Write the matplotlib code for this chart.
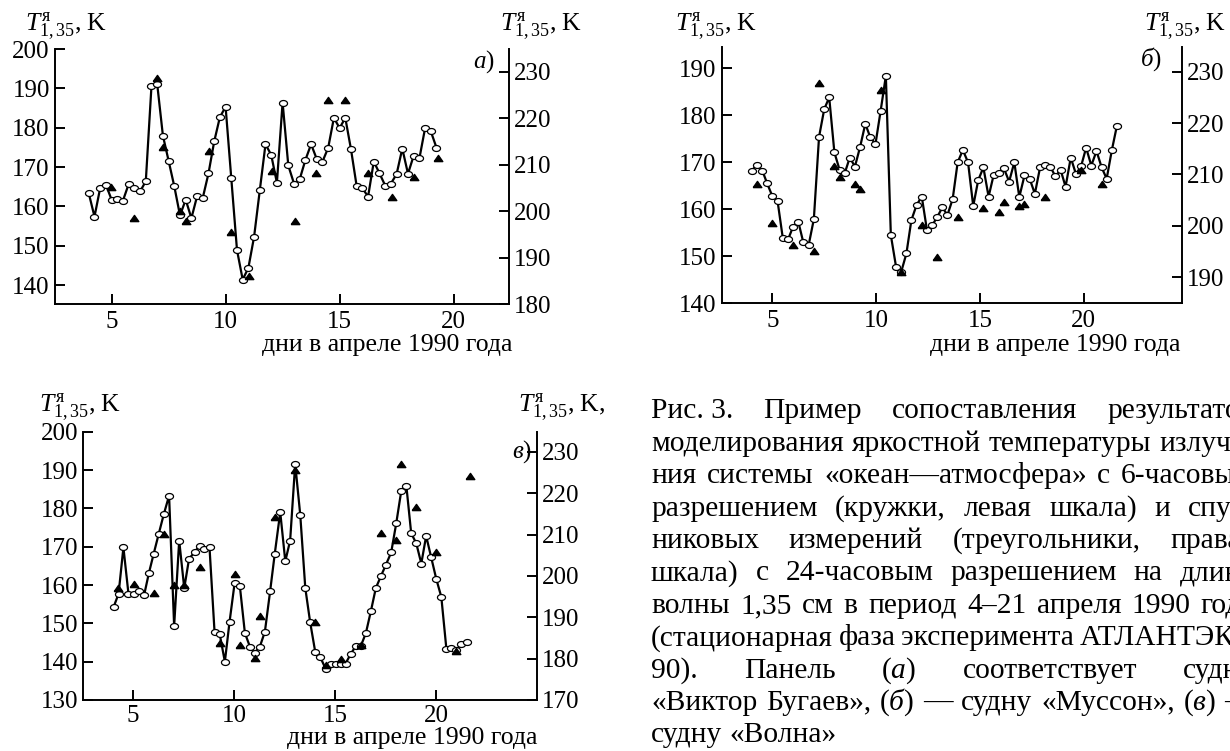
import numpy as np
import matplotlib
matplotlib.use('Agg')
import matplotlib.pyplot as plt

plt.rcParams['font.family'] = ['Liberation Serif', 'DejaVu Serif']
plt.rcParams['mathtext.fontset'] = 'custom'
plt.rcParams['mathtext.rm'] = 'Liberation Serif'
plt.rcParams['mathtext.it'] = 'Liberation Serif:italic'
plt.rcParams['mathtext.bf'] = 'Liberation Serif:bold'

# ---- panel a (Виктор Бугаев) ----
days_a = [4.0, 4.25, 4.5, 4.75, 5.0, 5.25, 5.5, 5.75, 6.0, 6.25, 6.5, 6.75, 7.0, 7.25, 7.5, 7.75,
          8.0, 8.25, 8.5, 8.75, 9.0, 9.25, 9.5, 9.75, 10.0, 10.25, 10.5, 10.75, 11.0, 11.25, 11.5,
          11.75, 12.0, 12.25, 12.5, 12.75, 13.0, 13.25, 13.5, 13.75, 14.0, 14.25, 14.5, 14.75, 15.0,
          15.25, 15.5, 15.75, 16.0, 16.25, 16.5, 16.75, 17.0, 17.25, 17.5, 17.75, 18.0, 18.25, 18.5,
          18.75, 19.0, 19.25]
model_a = [163.3, 157.4, 164.7, 165.5, 161.7, 161.9, 161.5, 165.7, 164.6, 163.8,
           166.4, 190.7, 191.1, 178.0, 171.6, 165.1, 157.7, 161.7, 157.0, 162.6,
           162.2, 168.4, 176.5, 182.7, 185.3, 167.1, 148.9, 141.4, 144.4, 152.3,
           164.1, 175.8, 173.1, 166.0, 186.4, 170.4, 165.8, 166.9, 171.8, 175.8,
           172.0, 171.4, 174.9, 182.5, 179.9, 182.5, 174.5, 165.1, 164.6, 162.5,
           171.4, 168.4, 165.3, 165.8, 168.2, 174.7, 168.3, 172.9, 172.2, 179.9, 179.1, 174.9]
sat_days_a = [4.97, 5.99, 7.0, 7.26, 8.0, 8.26, 9.26, 10.25, 11.02, 12.02, 13.03, 13.98,
              14.5, 15.25, 16.24, 17.29, 18.28, 19.31]
sat_a = [205.1, 198.6, 228.6, 213.7, 200.1, 197.9, 213.0, 195.4, 186.0, 208.6, 197.9, 208.1,
         223.9, 223.9, 208.3, 203.0, 207.4, 211.4]

# ---- panel b (Муссон) ----
days_b = [4.01, 4.26, 4.52, 4.75, 5.0, 5.25, 5.5, 5.76, 5.99, 6.26, 6.49, 6.75, 7.0, 7.25,
          7.5, 7.74, 7.99, 8.24, 8.49, 8.73, 8.98, 9.23, 9.48, 9.72, 9.97, 10.22, 10.47, 10.71,
          10.96, 11.21, 11.46, 11.7, 11.95, 12.2, 12.45, 12.7, 12.94, 13.19, 13.44, 13.69, 13.93,
          14.18, 14.43, 14.68, 14.92, 15.17, 15.42, 15.67, 15.91, 16.16, 16.41, 16.66, 16.9,
          17.15, 17.4, 17.65, 17.9, 18.14, 18.39, 18.64, 18.89, 19.13, 19.38, 19.63, 19.88,
          20.12, 20.37, 20.62, 20.87, 21.11, 21.36, 21.6]
model_b = [168.2, 169.5, 168.2, 165.5, 162.8, 161.8, 154.0, 153.6, 156.2, 157.2,
           153.0, 152.4, 157.9, 175.4, 181.3, 183.8, 172.1, 168.4, 167.7, 171.0,
           169.1, 173.3, 178.2, 175.3, 173.9, 181.0, 188.4, 154.5, 147.8, 146.7,
           150.6, 157.7, 160.9, 162.7, 155.6, 156.6, 158.3, 160.4, 158.8, 162.2,
           170.0, 172.6, 170.0, 160.7, 166.2, 168.9, 162.7, 167.4, 167.7, 168.7,
           165.9, 170.0, 162.6, 167.2, 166.5, 163.3, 168.9, 169.4, 169.1, 167.0,
           168.4, 164.8, 171.0, 167.5, 169.2, 173.1, 169.3, 172.4, 168.9, 166.5, 172.6, 177.7]
sat_days_b = [4.24, 5.0, 5.99, 7.0, 7.23, 7.99, 8.24, 8.98, 9.23, 10.22, 11.21, 12.2, 12.92,
              13.93, 15.13, 15.91, 16.16, 16.9, 17.15, 18.14, 19.86, 20.87]
sat_b = [208.1, 200.6, 196.3, 195.1, 227.8, 211.6, 209.6, 208.1, 207.2, 226.4, 191.0, 200.2,
         193.9, 201.8, 203.4, 202.7, 204.7, 203.9, 204.3, 205.7, 210.9, 208.1]

# ---- panel c (Волна) ----
days_c = [4.03, 4.28, 4.52, 4.77, 5.02, 5.28, 5.55, 5.78, 6.02, 6.27, 6.52, 6.78, 7.03,
          7.28, 7.53, 7.77, 8.04, 8.29, 8.53, 8.78, 9.03, 9.28, 9.54, 9.77, 10.02,
          10.28, 10.53, 10.78, 11.02, 11.27, 11.52, 11.78, 12.01, 12.28, 12.53, 12.77, 13.02,
          13.27, 13.52, 13.76, 14.01, 14.26, 14.52, 14.77, 15.02, 15.27, 15.51, 15.78, 16.02,
          16.27, 16.52, 16.77, 17.01, 17.26, 17.51, 17.77, 18.02, 18.27, 18.52, 18.76, 19.01,
          19.26, 19.5, 19.75, 20.0, 20.25, 20.5, 20.74, 21.0, 21.24, 21.52]
model_c = [154.2, 157.7, 169.8, 157.7, 157.7, 158.5, 157.5, 163.1, 168.2, 173.4, 178.5, 183.3, 149.3,
           171.6, 159.2, 166.9, 168.5, 170.3, 169.4, 169.8, 147.7, 147.3, 140.0, 150.3, 160.4,
           159.8, 147.5, 143.9, 142.3, 143.9, 147.8, 158.4, 168.2, 179.0, 166.2, 171.6, 191.6,
           178.3, 159.2, 150.3, 142.6, 141.2, 138.2, 139.3, 139.3, 139.3, 139.5, 142.1, 144.1,
           144.1, 147.5, 153.3, 159.2, 162.3, 165.3, 168.5, 176.1, 184.6, 185.9, 173.5, 170.9,
           165.6, 172.8, 167.2, 161.6, 156.9, 143.4, 143.6, 143.0, 144.7, 145.2]
sat_days_c = [4.24, 5.02, 6.04, 6.52, 7.03, 7.5, 8.29, 9.28, 10.02, 10.28, 11.02, 11.27, 12.01,
              13.02, 14.01, 14.52, 15.27, 16.27, 17.26, 18.02, 18.27, 19.01, 20.0, 21.0, 21.66]
sat_c = [197.0, 198.0, 195.9, 210.1, 197.8, 197.7, 202.1, 183.7, 200.4, 183.3, 180.2, 190.2, 214.2,
         225.6, 188.8, 178.5, 180.0, 183.4, 210.5, 208.6, 227.0, 216.6, 205.8, 181.9, 224.2]

caption = [
    ['Рис.\u00a03.', 'Пример', 'сопоставления', 'результатов'],
    ['моделирования', 'яркостной', 'температуры', 'излуче-'],
    ['ния', 'системы', '«океан—атмосфера»', 'с', '6-часовым'],
    ['разрешением', '(кружки,', 'левая', 'шкала)', 'и', 'спут-'],
    ['никовых', 'измерений', '(треугольники,', 'правая'],
    ['шкала)', 'с', '24-часовым', 'разрешением', 'на', 'длине'],
    ['волны', '1,35', 'см', 'в', 'период', '4–21', 'апреля', '1990', 'года'],
    ['(стационарная', 'фаза', 'эксперимента', 'АТЛАНТЭКС-'],
    ['90).', 'Панель', r'$(\mathit{а})$', 'соответствует', 'судну'],
    ['«Виктор', 'Бугаев»,', r'$(\mathit{б})$', '—', 'судну', '«Муссон»,', r'$(\mathit{в})$', '—'],
    ['судну', '«Волна»'],
]

W, H = 1230, 751
fig = plt.figure(figsize=(W / 100, H / 100), dpi=100)

theta = np.linspace(0, 2 * np.pi, 41)
ellipse = np.column_stack([np.cos(theta), 0.74 * np.sin(theta)])
triangle = [(-1, -0.72), (1, -0.72), (0, 0.72), (-1, -0.72)]
ylab = r'$T^{\mathrm{я}}_{1,35}$, K'


def fx(x):
    return x / W


def fy(y):
    return 1 - y / H


def panel(box, xlim, ylim_l, ylim_r, lticks, rticks, days, model, sdays, sat, tag, tag_xy, xpad=5):
    l, r, t, b = box
    ax = fig.add_axes([fx(l), fy(b), (r - l) / W, (b - t) / H])
    ax.plot(days, model, color='k', lw=1.6, zorder=2)
    ax.plot(days, model, ls='none', marker=ellipse, ms=5.8, mfc='white', mec='k', mew=0.9, zorder=3)
    ax.set_xlim(xlim)
    ax.set_ylim(ylim_l)
    ax.set_xticks([5, 10, 15, 20])
    ax.set_yticks(lticks)
    ax.spines['top'].set_visible(False)
    ax.spines['right'].set_visible(False)
    for s in ['left', 'bottom']:
        ax.spines[s].set_linewidth(1.4)
    ax.tick_params(direction='in', length=7.5, width=1.4, labelsize=18, pad=3.5)
    ax.tick_params(axis='x', pad=xpad)

    ax2 = ax.twinx()
    ax2.plot(sdays, sat, ls='none', marker=triangle, ms=6.2, color='k', zorder=4)
    ax2.set_ylim(ylim_r)
    ax2.set_yticks(rticks)
    for s in ['top', 'left', 'bottom']:
        ax2.spines[s].set_visible(False)
    ax2.spines['right'].set_linewidth(1.4)
    ax2.tick_params(direction='in', length=7.5, width=1.4, labelsize=18, pad=3.5)
    ax2.set_xlim(xlim)

    fig.text(fx(tag_xy[0]), fy(tag_xy[1]), tag, fontsize=18, ha='right', va='center')
    return ax


panel((54.6, 509, 49, 304), (2.5, 22.43), (135.2, 200), (180, 234.9),
      [140, 150, 160, 170, 180, 190, 200], [180, 190, 200, 210, 220, 230],
      days_a, model_a, sat_days_a, sat_a, r'$\mathit{а})$', (495, 62))
panel((721.5, 1182, 46.7, 303.3), (2.55, 24.74), (140, 194.6), (184.9, 234.9),
      [140, 150, 160, 170, 180, 190], [190, 200, 210, 220, 230],
      days_b, model_b, sat_days_b, sat_b, r'$\mathit{б})$', (1162, 59))
panel((83.2, 537.3, 431.7, 700), (2.53, 25.0), (130, 200), (170, 234.9),
      [130, 140, 150, 160, 170, 180, 190, 200], [170, 180, 190, 200, 210, 220, 230],
      days_c, model_c, sat_days_c, sat_c, r'$\mathit{в})$', (532, 452), xpad=3.5)

# axis titles
fig.text(fx(25), fy(30), ylab, fontsize=18.5, va='baseline')
fig.text(fx(500), fy(30), ylab, fontsize=18.5, va='baseline')
fig.text(fx(675), fy(30), ylab, fontsize=18.5, va='baseline')
fig.text(fx(1144), fy(30), ylab, fontsize=18.5, va='baseline')
fig.text(fx(39), fy(411), ylab, fontsize=18.5, va='baseline')
fig.text(fx(518), fy(411), ylab + ',', fontsize=18.5, va='baseline')

xlab = 'дни в апреле 1990 года'
fig.text(fx(512), fy(351), xlab, fontsize=18.5, ha='right', va='baseline')
fig.text(fx(1181), fy(351), xlab, fontsize=18.5, ha='right', va='baseline')
fig.text(fx(537.5), fy(744), xlab, fontsize=18.5, ha='right', va='baseline')

# caption, justified; the column runs past the right edge of the picture
renderer = fig.canvas.get_renderer()


def width(s, fs):
    t = fig.text(0, 0, s, fontsize=fs)
    w = t.get_window_extent(renderer).width
    t.remove()
    return w


def natural(words, fs):
    sp = width('н н', fs) - width('нн', fs)
    return sum(width(s, fs) for s in words) + (len(words) - 1) * sp


L = 651
fs = 18 * (1230 - L) / natural(['моделирования', 'яркостной', 'температуры', 'излуч'], 18)
space = width('н н', fs) - width('нн', fs)
R = L + natural(caption[1], fs) + 2

for i, words in enumerate(caption):
    yb = 418.5 + 32.4 * i
    ws = [width(s, fs) for s in words]
    if i < len(caption) - 1 and len(words) > 1:
        gap = max((R - L - sum(ws)) / (len(words) - 1), 0.75 * space)
    else:
        gap = space
    x = L
    for s, w in zip(words, ws):
        fig.text(fx(x), fy(yb), s, fontsize=fs, va='baseline')
        x += w + gap

fig.savefig('out.png', dpi=100)
